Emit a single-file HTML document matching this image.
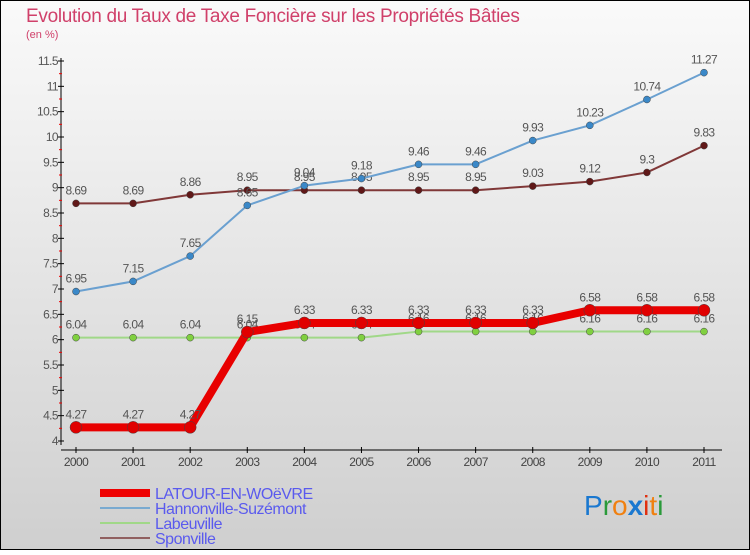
<!DOCTYPE html>
<html><head><meta charset="utf-8"><style>
html,body{margin:0;padding:0}
body{width:750px;height:550px;overflow:hidden;font-family:"Liberation Sans",sans-serif}
svg text{font-family:"Liberation Sans",sans-serif}
</style></head><body>
<svg id="chart" width="750" height="550" xmlns="http://www.w3.org/2000/svg">
<defs><linearGradient id="bg" x1="0" y1="0" x2="0" y2="1"><stop offset="0" stop-color="#fafafa"/><stop offset="1" stop-color="#cfcfcf"/></linearGradient></defs>
<rect x="0.5" y="0.5" width="749" height="549" fill="url(#bg)" stroke="#000"/>
<text x="26" y="22" font-size="19" fill="#d0406a" letter-spacing="-0.3">Evolution du Taux de Taxe Foncière sur les Propriétés Bâties</text>
<text x="26" y="38" font-size="11" fill="#d0406a">(en %)</text>
<g id="axes"></g><g id="series"></g>
<g>
<line x1="100" y1="493" x2="150" y2="493" stroke="#e00" stroke-width="8"/>
<text x="155" y="499" font-size="16" fill="#5a5aee" letter-spacing="-0.5">LATOUR-EN-WOëVRE</text>
<line x1="100" y1="508" x2="150" y2="508" stroke="#7aaad0" stroke-width="2"/>
<text x="155" y="514" font-size="16" fill="#5a5aee" letter-spacing="-0.5">Hannonville-Suzémont</text>
<line x1="100" y1="523" x2="150" y2="523" stroke="#a0d888" stroke-width="2"/>
<text x="155" y="529" font-size="16" fill="#5a5aee" letter-spacing="-0.5">Labeuville</text>
<line x1="100" y1="538" x2="150" y2="538" stroke="#906060" stroke-width="2"/>
<text x="155" y="544" font-size="16" fill="#5a5aee" letter-spacing="-0.5">Sponville</text>
</g>
<text x="584" y="515" font-size="28"><tspan fill="#1a78d0">P</tspan><tspan fill="#2a9a3a">r</tspan><tspan fill="#f08010">o</tspan><tspan fill="#1a78d0" font-weight="bold">x</tspan><tspan fill="#e03010">i</tspan><tspan fill="#f08010">t</tspan><tspan fill="#2a9a3a">i</tspan></text>
</svg>
<script>
const years=[2000,2001,2002,2003,2004,2005,2006,2007,2008,2009,2010,2011];
const latour=[4.27,4.27,4.27,6.15,6.33,6.33,6.33,6.33,6.33,6.58,6.58,6.58];
const hannonville=[6.95,7.15,7.65,8.65,9.04,9.18,9.46,9.46,9.93,10.23,10.74,11.27];
const labeuville=[6.04,6.04,6.04,6.04,6.04,6.04,6.16,6.16,6.16,6.16,6.16,6.16];
const sponville=[8.69,8.69,8.86,8.95,8.95,8.95,8.95,8.95,9.03,9.12,9.3,9.83];
const yTicks=[4,4.5,5,5.5,6,6.5,7,7.5,8,8.5,9,9.5,10,10.5,11,11.5];
const NS="http://www.w3.org/2000/svg";
const xs=i=>76+i*(628/11);
const ys=v=>441-(v-4)*(380/7.5);
function mk(tag,attrs,parent){const e=document.createElementNS(NS,tag);for(const k in attrs)e.setAttribute(k,attrs[k]);parent.appendChild(e);return e;}
const ax=document.getElementById('axes');
let a=mk('line',{x1:61,y1:58,x2:61,y2:445,stroke:'#000'},ax);


a=mk('line',{x1:61,y1:450,x2:722,y2:450,stroke:'#000'},ax);


yTicks.forEach(v=>{
  const y=ys(v);
  let t=mk('line',{x1:58,y1:y,x2:64,y2:y,stroke:'#000'},ax);
  
  
  if(v<11.5){let m=mk('line',{x1:59,y1:y-12.67,x2:62,y2:y-12.67,stroke:'#e00'},ax);
  
  }
  let l=mk('text',{x:58,y:y+4,'font-size':12,'text-anchor':'end',fill:'#555','letter-spacing':'-0.6'},ax);
  l.textContent=String(v);
  
  
});
years.forEach((yr,i)=>{
  const x=xs(i);
  let t=mk('line',{x1:x,y1:447,x2:x,y2:453,stroke:'#000'},ax);
  
  
  let l=mk('text',{x:x,y:466,'font-size':12,'text-anchor':'middle',fill:'#444','letter-spacing':'-0.6'},ax);
  l.textContent=String(yr);
  
  
});
const sg=document.getElementById('series');
function series(vals,color,w,r,ptFill,name){
  const g=mk('g',{},sg);
  
  
  const p=mk('polyline',{points:vals.map((v,i)=>xs(i)+','+ys(v)).join(' '),fill:'none',stroke:color,'stroke-width':w,'stroke-linejoin':'round'},g);
  
  
  vals.forEach((v,i)=>{
    const c=mk('circle',{cx:xs(i),cy:ys(v),r:r,fill:ptFill,stroke:'#444','stroke-width':0.5},g);
    
    
    const t=mk('text',{x:xs(i),y:ys(v)-9,'font-size':12,'text-anchor':'middle',fill:'#555','letter-spacing':'-0.6'},g);
    t.textContent=String(v);
    
    
  });
}
series(labeuville,'#a0d888',2,3.5,'#80d040','labeuville');
series(sponville,'#803838',2,3.5,'#601818','sponville');
series(hannonville,'#6aa0d0',2,3.5,'#3a88c8','hannonville');
series(latour,'#e80000',8,6,'#e00000','latour');
</script>
</body></html>
